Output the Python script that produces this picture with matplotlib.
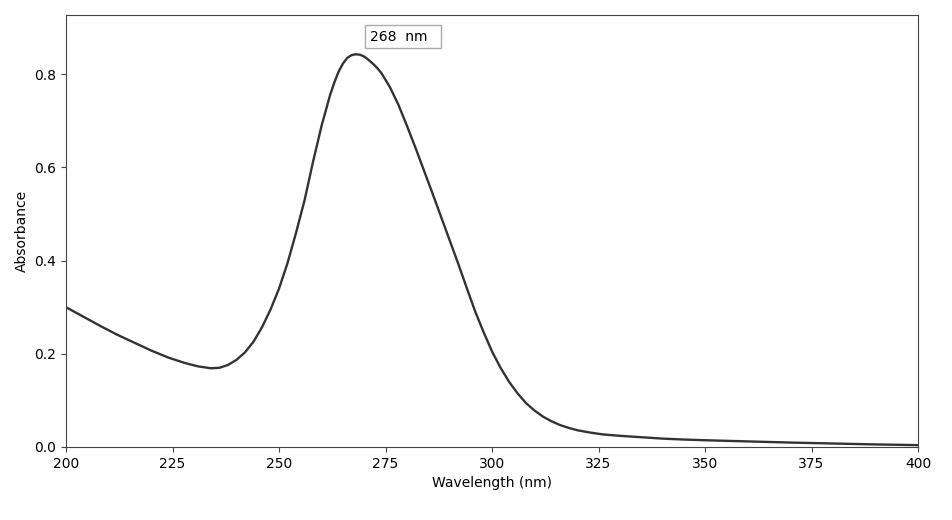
import numpy as np
import matplotlib.pyplot as plt

wavelength = [200, 204, 208, 212, 216, 220, 224, 228, 231, 234, 236, 238, 240,
              242, 244, 246, 248, 250, 252, 254, 256, 258, 260, 262, 263, 264,
              265, 266, 267, 268, 269, 270, 271, 272, 273, 274, 276, 278, 280,
              282, 284, 286, 288, 290, 292, 294, 296, 298, 300, 302, 304, 306,
              308, 310, 312, 314, 316, 318, 320, 323, 326, 330, 335, 340, 345,
              350, 360, 370, 380, 390, 400]
absorbance = [0.300, 0.280, 0.260, 0.241, 0.224, 0.207, 0.192, 0.180, 0.173,
              0.169, 0.170, 0.176, 0.187, 0.203, 0.226, 0.257, 0.295, 0.340,
              0.395, 0.460, 0.530, 0.613, 0.690, 0.756, 0.783, 0.806, 0.823,
              0.835, 0.841, 0.843, 0.842, 0.838, 0.831, 0.823, 0.814, 0.803,
              0.773, 0.735, 0.690, 0.643, 0.594, 0.545, 0.495, 0.445, 0.395,
              0.343, 0.292, 0.247, 0.205, 0.170, 0.140, 0.115, 0.094, 0.078,
              0.065, 0.055, 0.047, 0.041, 0.036, 0.031, 0.027, 0.024, 0.021,
              0.018, 0.016, 0.0145, 0.012, 0.0095, 0.0075, 0.0055, 0.004]
peak_label = "268  nm"

fig = plt.figure(figsize=(9.53, 5.2), dpi=100)
ax = fig.add_axes([0.0693, 0.1404, 0.894, 0.8308])
ax.plot(wavelength, absorbance, color='#333333', linewidth=1.7,
        solid_joinstyle='round')
ax.set_xlim(200, 400)
ax.set_ylim(0, max(absorbance) * 1.1)
ax.set_xlabel('Wavelength (nm)')
ax.set_ylabel('Absorbance')
for s in ax.spines.values():
    s.set_color('#444444')
ax.tick_params(color='#444444')

ax.text(271.4, 0.881, peak_label + "  ", ha='left', va='center', fontsize=10,
        bbox=dict(boxstyle='square,pad=0.35', facecolor='white', edgecolor='#aaaaaa'))

plt.savefig('out.png')
